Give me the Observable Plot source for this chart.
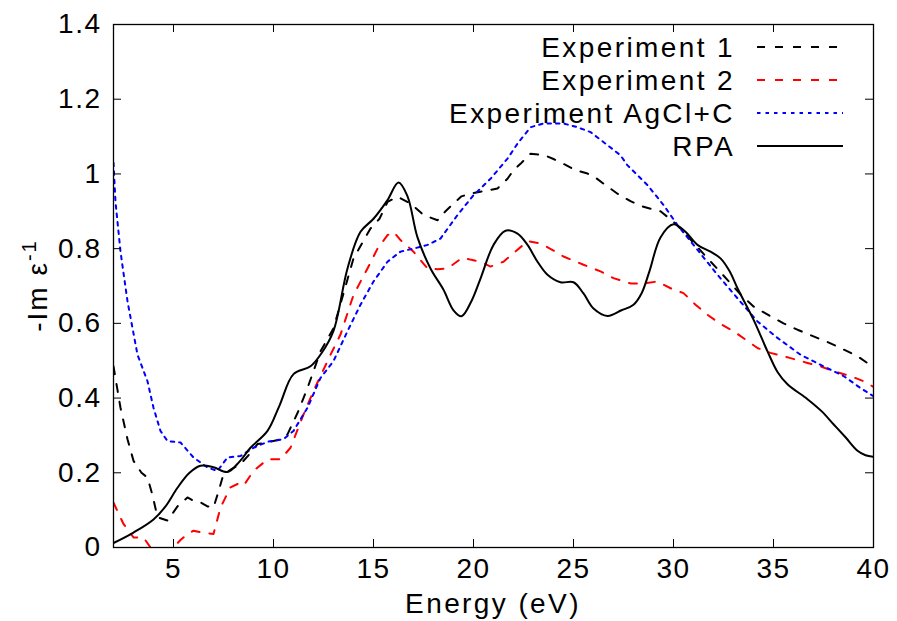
<!DOCTYPE html>
<html>
<head>
<meta charset="utf-8">
<script src="https://cdn.jsdelivr.net/npm/d3@7"></script>
<script src="https://cdn.jsdelivr.net/npm/@observablehq/plot@0.6"></script>
<style>
  html, body { margin: 0; padding: 0; background: #fff; }
  #chart svg { display: block; }
</style>
</head>
<body>
<div id="chart"></div>
<script>
const xTicks = [5, 10, 15, 20, 25, 30, 35, 40];
const yTicks = [0, 0.2, 0.4, 0.6, 0.8, 1, 1.2, 1.4];
const seriesNames = ["Experiment 1", "Experiment 2", "Experiment AgCl+C", "RPA"];

const exp1 = [[2.0,0.485],[2.35,0.374],[2.7,0.29],[3.0,0.232],[3.4,0.2],[3.7,0.187],[3.95,0.14],[4.2,0.081],[4.7,0.072],[5.2,0.11],[5.7,0.134],[6.0,0.125],[6.35,0.121],[6.7,0.11],[7.0,0.107],[7.25,0.15],[7.5,0.196],[7.9,0.21],[8.35,0.223],[8.8,0.25],[9.2,0.277],[9.6,0.28],[10.0,0.285],[10.4,0.29],[10.7,0.303],[11.2,0.36],[11.7,0.427],[12.35,0.525],[13.0,0.587],[13.5,0.68],[14.0,0.774],[14.85,0.854],[15.3,0.88],[15.7,0.925],[16.2,0.939],[16.85,0.921],[17.5,0.89],[18.2,0.876],[18.6,0.9],[19.0,0.921],[19.4,0.94],[19.85,0.947],[20.5,0.954],[21.2,0.961],[21.7,0.987],[22.0,1.01],[22.35,1.027],[22.85,1.054],[23.5,1.051],[24.0,1.04],[24.5,1.027],[25.1,1.01],[25.7,1.001],[26.1,0.99],[26.5,0.974],[27.2,0.947],[27.85,0.927],[28.5,0.912],[29.35,0.9],[30.0,0.872],[30.5,0.845],[31.1,0.81],[31.7,0.774],[32.3,0.74],[32.85,0.707],[33.4,0.675],[34.0,0.645],[34.85,0.619],[35.5,0.6],[36.2,0.583],[37.0,0.565],[37.7,0.55],[38.35,0.534],[39.2,0.512],[39.85,0.488],[40,0.483]];

const exp2 = [[2.0,0.12],[2.5,0.063],[3.0,0.027],[3.5,0.027],[3.85,0.0],[4.3,-0.04],[4.7,-0.03],[5.0,0.0],[5.35,0.02],[5.7,0.036],[6.0,0.045],[6.35,0.041],[7.0,0.036],[7.35,0.107],[7.85,0.161],[8.2,0.17],[8.5,0.165],[9.0,0.205],[9.7,0.236],[10.35,0.236],[10.85,0.267],[11.5,0.356],[12.0,0.419],[12.85,0.516],[13.35,0.57],[14.0,0.676],[14.7,0.747],[15.2,0.8],[15.7,0.836],[16.0,0.845],[16.35,0.823],[17.0,0.792],[17.7,0.747],[18.2,0.745],[18.7,0.747],[19.45,0.776],[19.9,0.77],[20.35,0.765],[20.85,0.752],[21.5,0.765],[22.2,0.797],[22.7,0.82],[23.35,0.814],[24.0,0.795],[24.5,0.779],[25.5,0.757],[26.35,0.739],[27.0,0.721],[27.85,0.707],[28.5,0.707],[29.2,0.712],[30.0,0.69],[30.5,0.681],[31.1,0.65],[31.7,0.623],[32.3,0.6],[33.0,0.579],[34.2,0.534],[34.85,0.521],[35.85,0.507],[36.7,0.494],[37.4,0.484],[38.0,0.472],[38.85,0.459],[39.5,0.445],[40,0.43]];

const expAgCl = [[2.0,1.03],[2.1,0.925],[2.35,0.792],[2.7,0.659],[3.2,0.516],[3.7,0.445],[4.0,0.374],[4.35,0.312],[4.7,0.285],[5.35,0.281],[6.0,0.241],[6.7,0.214],[7.2,0.205],[7.7,0.241],[8.35,0.245],[9.0,0.267],[9.7,0.283],[10.5,0.29],[11.0,0.312],[11.7,0.374],[12.35,0.454],[13.0,0.499],[13.7,0.579],[14.35,0.65],[15.0,0.712],[15.7,0.765],[16.35,0.792],[17.0,0.8],[17.7,0.81],[18.35,0.827],[19.2,0.89],[20.0,0.943],[20.85,0.987],[21.7,1.041],[22.2,1.081],[22.85,1.125],[23.5,1.135],[24.5,1.135],[25.2,1.125],[25.85,1.112],[26.7,1.077],[27.35,1.05],[27.7,1.023],[28.7,0.97],[29.5,0.917],[30.2,0.863],[31.0,0.81],[32.2,0.73],[33.2,0.667],[34.2,0.605],[35.2,0.561],[36.35,0.516],[37.5,0.485],[38.5,0.459],[39.35,0.427],[40,0.405]];

const rpa = [[2.0,0.012],[3.0,0.04],[4.0,0.075],[4.6,0.11],[5.2,0.16],[5.8,0.2],[6.35,0.219],[7.0,0.215],[7.7,0.202],[8.3,0.23],[8.85,0.267],[9.7,0.312],[10.3,0.38],[11.0,0.464],[11.85,0.485],[12.4,0.52],[13.0,0.58],[13.7,0.747],[14.35,0.845],[15.0,0.88],[15.7,0.93],[16.25,0.977],[16.7,0.94],[17.2,0.83],[17.85,0.747],[18.5,0.69],[19.0,0.635],[19.4,0.619],[19.9,0.66],[20.35,0.72],[21.0,0.81],[21.6,0.848],[22.2,0.84],[22.7,0.81],[23.2,0.765],[23.7,0.73],[24.35,0.71],[25.0,0.71],[25.5,0.68],[26.0,0.64],[26.7,0.62],[27.4,0.635],[28.0,0.65],[28.4,0.68],[28.8,0.74],[29.35,0.83],[30.0,0.865],[30.6,0.845],[31.2,0.81],[31.85,0.792],[32.35,0.774],[32.8,0.74],[33.2,0.694],[34.0,0.61],[34.7,0.525],[35.2,0.47],[35.7,0.437],[36.7,0.397],[37.4,0.365],[38.0,0.33],[38.6,0.295],[39.2,0.259],[39.6,0.247],[40,0.243]];

const W = 897, H = 621, mL = 113, mR = 24, mT = 24, mB = 74;
const pw = W - mL - mR, ph = H - mT - mB;
const tick = 8;

const series = [
  {data: exp1, stroke: "#000000", dash: "8,10", curve: "linear"},
  {data: exp2, stroke: "#ff0000", dash: "8,10", curve: "linear"},
  {data: expAgCl, stroke: "#0000ff", dash: "3.5,5", curve: "linear"},
  {data: rpa, stroke: "#000000", dash: null, curve: "catmull-rom"}
];

const svg = Plot.plot({
  width: W, height: H,
  marginLeft: mL, marginRight: mR, marginTop: mT, marginBottom: mB,
  x: {domain: [2, 40]},
  y: {domain: [0, 1.4]},
  marks: [
    ...series.map(s => Plot.line(s.data, {
      x: d => d[0], y: d => d[1], stroke: s.stroke, strokeWidth: 2,
      strokeDasharray: s.dash, curve: s.curve, clip: true
    })),
    Plot.ruleX(xTicks, {x: d => d, insetTop: ph - tick, stroke: "#000", strokeWidth: 1}),
    Plot.ruleX(xTicks, {x: d => d, insetBottom: ph - tick, stroke: "#000", strokeWidth: 1}),
    Plot.ruleY(yTicks, {y: d => d, insetRight: pw - tick, stroke: "#000", strokeWidth: 1}),
    Plot.ruleY(yTicks, {y: d => d, insetLeft: pw - tick, stroke: "#000", strokeWidth: 1}),
    Plot.frame({stroke: "#000", strokeWidth: 1.3}),
    Plot.axisX(xTicks, {tickSize: 0, tickPadding: 11, label: null, tickFormat: d => String(d)}),
    Plot.axisY(yTicks, {tickSize: 0, tickPadding: 12, label: null, tickFormat: d => String(d)})
  ]
});

const root = d3.select(svg)
  .attr("font-family", "'Liberation Sans', Arial, sans-serif")
  .attr("font-size", 28)
  .style("font-family", "'Liberation Sans', Arial, sans-serif")
  .style("font-size", "28px");
root.selectAll("text").style("letter-spacing", "1.5px").attr("fill", "#000");

// Axis titles
root.append("text")
  .attr("x", (mL + W - mR) / 2).attr("y", 613)
  .attr("text-anchor", "middle").style("letter-spacing", "2.4px")
  .text("Energy (eV)");

const yl = root.append("text")
  .attr("transform", `translate(47, ${(mT + H - mB) / 2}) rotate(-90)`)
  .attr("text-anchor", "middle").style("letter-spacing", "2px");
yl.append("tspan").text("-Im ε");
yl.append("tspan").attr("dy", -11).attr("font-size", 20).text("-1");

// Legend
const rows = [47, 80, 113, 146];
const lg = root.append("g");
series.forEach((s, i) => {
  lg.append("text").attr("x", 735).attr("y", rows[i]).attr("dy", "0.36em")
    .attr("text-anchor", "end").style("letter-spacing", "2.4px").text(seriesNames[i]);
  lg.append("line").attr("x1", 757).attr("x2", 843).attr("y1", rows[i]).attr("y2", rows[i])
    .attr("stroke", s.stroke).attr("stroke-width", 2)
    .attr("stroke-dasharray", s.dash);
});

document.getElementById("chart").appendChild(svg);
</script>
</body>
</html>
